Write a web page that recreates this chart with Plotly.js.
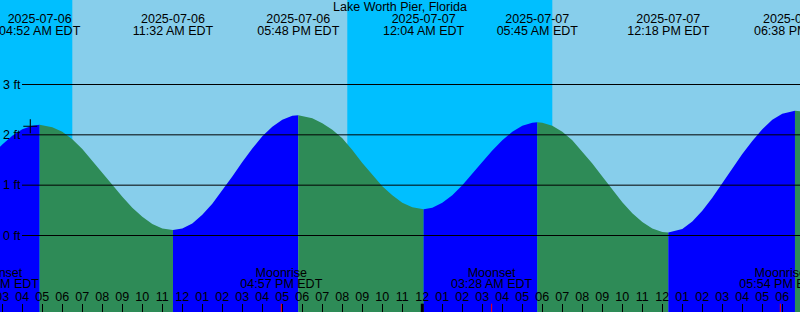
<!DOCTYPE html>
<html><head><meta charset="utf-8">
<script src="https://cdn.plot.ly/plotly-3.0.1.min.js"></script>
<style>html,body{margin:0;padding:0;background:#00BFFF;overflow:hidden}</style>
</head><body><div id="chart" style="width:800px;height:312px"></div>
<script>
const stationName = "Lake Worth Pier, Florida";
const tideTimes = [
 "2025-07-06 02:00","2025-07-06 02:30","2025-07-06 03:00","2025-07-06 03:30","2025-07-06 04:00","2025-07-06 04:30","2025-07-06 04:52",
 "2025-07-06 05:30","2025-07-06 06:00","2025-07-06 06:30","2025-07-06 07:00","2025-07-06 07:30","2025-07-06 08:00","2025-07-06 08:30",
 "2025-07-06 09:00","2025-07-06 09:30","2025-07-06 10:00","2025-07-06 10:30","2025-07-06 11:00","2025-07-06 11:32",
 "2025-07-06 12:00","2025-07-06 12:30","2025-07-06 13:00","2025-07-06 13:30","2025-07-06 14:00","2025-07-06 14:30","2025-07-06 15:00",
 "2025-07-06 15:30","2025-07-06 16:00","2025-07-06 16:30","2025-07-06 17:00","2025-07-06 17:30","2025-07-06 17:48",
 "2025-07-06 18:30","2025-07-06 19:00","2025-07-06 19:30","2025-07-06 20:00","2025-07-06 20:30","2025-07-06 21:00","2025-07-06 21:30",
 "2025-07-06 22:00","2025-07-06 22:30","2025-07-06 23:00","2025-07-06 23:30","2025-07-07 00:04",
 "2025-07-07 00:30","2025-07-07 01:00","2025-07-07 01:30","2025-07-07 02:00","2025-07-07 02:30","2025-07-07 03:00","2025-07-07 03:30",
 "2025-07-07 04:00","2025-07-07 04:30","2025-07-07 05:00","2025-07-07 05:30","2025-07-07 05:45",
 "2025-07-07 06:00","2025-07-07 06:30","2025-07-07 07:00","2025-07-07 07:30","2025-07-07 08:00","2025-07-07 08:30","2025-07-07 09:00",
 "2025-07-07 09:30","2025-07-07 10:00","2025-07-07 10:30","2025-07-07 11:00","2025-07-07 11:30","2025-07-07 12:00","2025-07-07 12:18",
 "2025-07-07 13:00","2025-07-07 13:30","2025-07-07 14:00","2025-07-07 14:30","2025-07-07 15:00","2025-07-07 15:30","2025-07-07 16:00",
 "2025-07-07 16:30","2025-07-07 17:00","2025-07-07 17:30","2025-07-07 18:00","2025-07-07 18:38",
 "2025-07-07 19:00","2025-07-07 19:30"
];
const tideHeights = [
 1.36,1.60,1.81,1.98,2.11,2.18,2.20,
 2.15,2.06,1.91,1.72,1.49,1.25,1.01,
 0.77,0.55,0.37,0.23,0.14,0.11,
 0.14,0.24,0.41,0.63,0.89,1.17,1.46,
 1.73,1.97,2.16,2.30,2.38,2.39,
 2.33,2.23,2.10,1.93,1.70,1.44,1.20,
 0.98,0.80,0.65,0.56,0.52,
 0.55,0.65,0.80,1.00,1.22,1.46,1.69,
 1.89,2.06,2.18,2.24,2.25,
 2.24,2.18,2.06,1.89,1.67,1.43,1.17,
 0.91,0.66,0.44,0.27,0.14,0.07,0.06,
 0.13,0.28,0.49,0.75,1.04,1.34,1.62,
 1.88,2.11,2.30,2.42,2.48,
 2.46,2.40
];
const extremeTimes = ["2025-07-06 04:52","2025-07-06 11:32","2025-07-06 17:48","2025-07-07 00:04","2025-07-07 05:45","2025-07-07 12:18","2025-07-07 18:38"];
const extremeDates = ["2025-07-06","2025-07-06","2025-07-06","2025-07-07","2025-07-07","2025-07-07","2025-07-07"];
const extremeLabels = ["04:52 AM EDT","11:32 AM EDT","05:48 PM EDT","12:04 AM EDT","05:45 AM EDT","12:18 PM EDT","06:38 PM EDT"];
const moonTimes = ["2025-07-06 02:48","2025-07-06 16:57","2025-07-07 03:28","2025-07-07 17:54"];
const moonEvents = ["Moonset","Moonrise","Moonset","Moonrise"];
const moonLabels = ["02:48 AM EDT","04:57 PM EDT","03:28 AM EDT","05:54 PM EDT"];
const sunriseTimes = ["2025-07-06 06:30","2025-07-07 06:30"];
const sunsetTimes = ["2025-07-06 20:15","2025-07-07 20:15"];
const midnightTimes = ["2025-07-07 00:00"];
const levelTicks = [0,1,2,3];
const nowTime = ["2025-07-06 04:24"];
const nowHeight = [2.17];

const NIGHT = "#00BFFF", DAY = "#87CEEB", RISE = "#0000FF", FALL = "#2E8B57";
const FONT = "Liberation Sans, Arial, sans-serif";
const FS = 12.5;
const YMIN = -1.520, YMAX = 4.679;
const pxToFt = p => (235.5 - p) / 50.33;

// split tide series at local extremes
const segs = [];
let s0 = 0;
for (let i = 1; i < tideHeights.length - 1; i++) {
  const a = tideHeights[i] - tideHeights[i-1], b = tideHeights[i+1] - tideHeights[i];
  if (a * b < 0) { segs.push([s0, i]); s0 = i; }
}
segs.push([s0, tideHeights.length - 1]);

const traces = [];
segs.forEach(([a, b]) => {
  const xs = tideTimes.slice(a, b + 1), ys = tideHeights.slice(a, b + 1);
  const rising = ys[ys.length - 1] > ys[0];
  traces.push({x: xs, y: xs.map(() => YMIN - 2), mode: "lines", line: {width: 0}, hoverinfo: "skip", showlegend: false});
  traces.push({x: xs, y: ys, mode: "lines", fill: "tonexty", fillcolor: rising ? RISE : FALL,
    line: {width: 0, color: rising ? RISE : FALL}, hoverinfo: "skip", showlegend: false});
});

// now marker
traces.push({x: nowTime, y: nowHeight, mode: "markers", marker: {symbol: "cross-thin", size: 10, color: "#000", line: {width: 1.1, color: "#000"}}, showlegend: false});

// header labels at tide extremes
const tfont = {family: FONT, size: FS, color: "#000"};
traces.push({x: extremeTimes, y: extremeTimes.map(() => pxToFt(19.5)), mode: "text", text: extremeDates, textposition: "middle center", textfont: tfont, showlegend: false, cliponaxis: true});
traces.push({x: extremeTimes, y: extremeTimes.map(() => pxToFt(31.7)), mode: "text", text: extremeLabels, textposition: "middle center", textfont: tfont, showlegend: false, cliponaxis: true});
// moon labels
traces.push({x: moonTimes, y: moonTimes.map(() => pxToFt(273.5)), mode: "text", text: moonEvents, textposition: "middle center", textfont: tfont, showlegend: false, cliponaxis: true});
traces.push({x: moonTimes, y: moonTimes.map(() => pxToFt(285.2)), mode: "text", text: moonLabels, textposition: "middle center", textfont: tfont, showlegend: false, cliponaxis: true});

const shapes = [];
sunriseTimes.forEach((t, i) => shapes.push({type: "rect", xref: "x", yref: "paper", x0: t, x1: sunsetTimes[i], y0: 0, y1: 1, fillcolor: DAY, line: {width: 0}, layer: "below"}));
levelTicks.forEach(v => shapes.push({type: "line", xref: "paper", yref: "y", x0: 22/800, x1: 1, y0: v, y1: v, line: {color: "#000", width: 1}, layer: "above"}));
midnightTimes.forEach(t => shapes.push({type: "line", xref: "x", yref: "paper", x0: t, x1: t, y0: 0, y1: 8.3/312, line: {color: "#000", width: 3}, layer: "above"}));
moonTimes.forEach(t => shapes.push({type: "line", xref: "x", yref: "paper", x0: t, x1: t, y0: 0, y1: 8.3/312, line: {color: "#FF0000", width: 1}, layer: "above"}));

const annotations = levelTicks.map(v => ({xref: "paper", yref: "y", x: 0, y: v, xanchor: "left", yanchor: "middle", xshift: 1, text: v + " ft", showarrow: false, font: tfont}));

const layout = {
  width: 800, height: 312,
  margin: {l: 0, r: 0, t: 0, b: 0, pad: 0},
  paper_bgcolor: NIGHT, plot_bgcolor: NIGHT,
  showlegend: false,
  font: {family: FONT, size: FS, color: "#000"},
  title: {text: stationName, x: 0.5, xanchor: "center", xref: "paper", y: 1 - 6.7/312, yanchor: "middle", yref: "container", font: {family: FONT, size: FS, color: "#000"}},
  xaxis: {type: "date", range: ["2025-07-06 02:53:06", "2025-07-07 18:53:06"], dtick: 3600000, tick0: "2025-07-06 00:00",
    tickformat: "%I", ticks: "inside", ticklen: 8, tickwidth: 1, tickcolor: "#000", ticklabelposition: "inside",
    ticklabeloverflow: "allow", layer: "above traces", showgrid: false, zeroline: false, showline: false, tickfont: tfont, fixedrange: true},
  yaxis: {range: [YMIN, YMAX], showticklabels: false, showgrid: false, zeroline: false, ticks: "", fixedrange: true},
  shapes: shapes, annotations: annotations
};
Plotly.newPlot("chart", traces, layout, {staticPlot: true, displayModeBar: false});
</script></body></html>
